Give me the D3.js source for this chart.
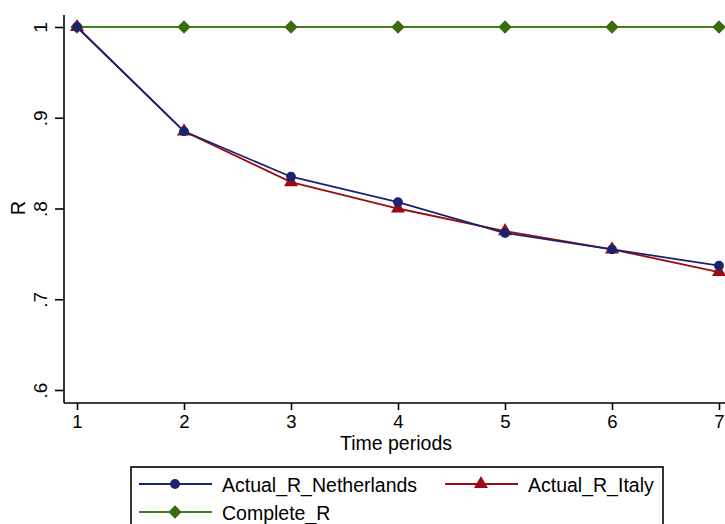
<!DOCTYPE html>
<html>
<head>
<meta charset="utf-8">
<script src="https://cdn.jsdelivr.net/npm/d3@7"></script>
<style>
  body { margin: 0; background: #fff; }
  svg { display: block; font-family: "Liberation Sans", Arial, sans-serif; }
</style>
</head>
<body>
<div id="chart"></div>
<script>
// data
const periods = [1, 2, 3, 4, 5, 6, 7];
const netherlands = [1, 0.885, 0.835, 0.807, 0.773, 0.755, 0.737];
const italy = [1, 0.885, 0.829, 0.800, 0.775, 0.755, 0.730];
const complete = [1, 1, 1, 1, 1, 1, 1];
const yTicks = [0.6, 0.7, 0.8, 0.9, 1];
const yTickLabels = [".6", ".7", ".8", ".9", "1"];

// square turned 45 degrees, like the Stata diamond
const wideDiamond = {
  draw(ctx, size) {
    const r = Math.sqrt(size / 2);
    ctx.moveTo(0, -r);
    ctx.lineTo(r, 0);
    ctx.lineTo(0, r);
    ctx.lineTo(-r, 0);
    ctx.closePath();
  }
};

const seriesList = [
  { name: "Actual_R_Netherlands", values: netherlands, color: "#1a236e", symbol: d3.symbolCircle, size: 75 },
  { name: "Actual_R_Italy", values: italy, color: "#9c0b12", symbol: d3.symbolTriangle, size: 85 },
  { name: "Complete_R", values: complete, color: "#467f1a", marker: "#3a6b0c", symbol: wideDiamond, size: 88 }
];

const width = 725, height = 524;
const svg = d3.select("#chart").append("svg")
  .attr("width", width).attr("height", height);

const x = d3.scaleLinear().domain([1, 7]).range([77, 719]);
const y = d3.scaleLinear().domain([0.6, 1]).range([390, 27]);

// axes
const xAxisY = 403, yAxisX = 64;

const yAxis = svg.append("g").attr("transform", `translate(${yAxisX},0)`)
  .call(d3.axisLeft(y).tickValues(yTicks).tickFormat((d, i) => yTickLabels[i]).tickSize(9).tickPadding(0));
yAxis.select(".domain").attr("d", `M0,15V${xAxisY}`).attr("stroke-width", 1.6);
yAxis.selectAll(".tick line").attr("stroke-width", 1.6);
yAxis.selectAll(".tick text")
  .attr("x", 0).attr("dy", null)
  .attr("transform", "translate(-24,0) rotate(-90)")
  .attr("text-anchor", "middle")
  .attr("dominant-baseline", "central")
  .attr("font-size", 19).attr("fill", "#000");

const xAxis = svg.append("g").attr("transform", `translate(0,${xAxisY})`)
  .call(d3.axisBottom(x).tickValues(periods).tickFormat(d3.format("d")).tickSize(7).tickPadding(5));
xAxis.select(".domain").attr("d", `M${yAxisX},0H${width}`).attr("stroke-width", 1.6);
xAxis.selectAll(".tick line").attr("stroke-width", 1.6);
xAxis.selectAll(".tick text").attr("font-size", 18.5).attr("fill", "#000");

svg.append("text")
  .attr("x", 396).attr("y", 450)
  .attr("text-anchor", "middle").attr("font-size", 19.5)
  .text("Time periods");

svg.append("text")
  .attr("transform", "translate(25,208) rotate(-90)")
  .attr("text-anchor", "middle").attr("font-size", 20)
  .text("R");

// lines and markers
const line = d3.line().x((d, i) => x(periods[i])).y(d => y(d));

seriesList.slice().reverse().forEach(s => {
  const g = svg.append("g");
  g.append("path")
    .attr("d", line(s.values))
    .attr("fill", "none")
    .attr("stroke", s.color)
    .attr("stroke-width", 1.8);
  g.selectAll("path.m")
    .data(s.values)
    .join("path")
    .attr("class", "m")
    .attr("transform", (d, i) => `translate(${x(periods[i])},${y(d)})`)
    .attr("d", d3.symbol(s.symbol, s.size))
    .attr("fill", s.marker || s.color);
});

// legend
const legend = svg.append("g");
legend.append("rect")
  .attr("x", 131).attr("y", 467).attr("width", 532).attr("height", 80)
  .attr("fill", "#fff").attr("stroke", "#000").attr("stroke-width", 1.6);

const legendPos = [
  { lx: 139, ly: 484 },
  { lx: 445, ly: 484 },
  { lx: 139, ly: 512 }
];
seriesList.forEach((s, i) => {
  const p = legendPos[i];
  legend.append("line")
    .attr("x1", p.lx).attr("x2", p.lx + 73)
    .attr("y1", p.ly).attr("y2", p.ly)
    .attr("stroke", s.color).attr("stroke-width", 1.8);
  legend.append("path")
    .attr("transform", `translate(${p.lx + 36},${p.ly})`)
    .attr("d", d3.symbol(s.symbol, s.size))
    .attr("fill", s.marker || s.color);
  legend.append("text")
    .attr("x", p.lx + 83).attr("y", p.ly + 1)
    .attr("dominant-baseline", "central")
    .attr("font-size", 19.5)
    .text(s.name);
});
</script>
</body>
</html>
